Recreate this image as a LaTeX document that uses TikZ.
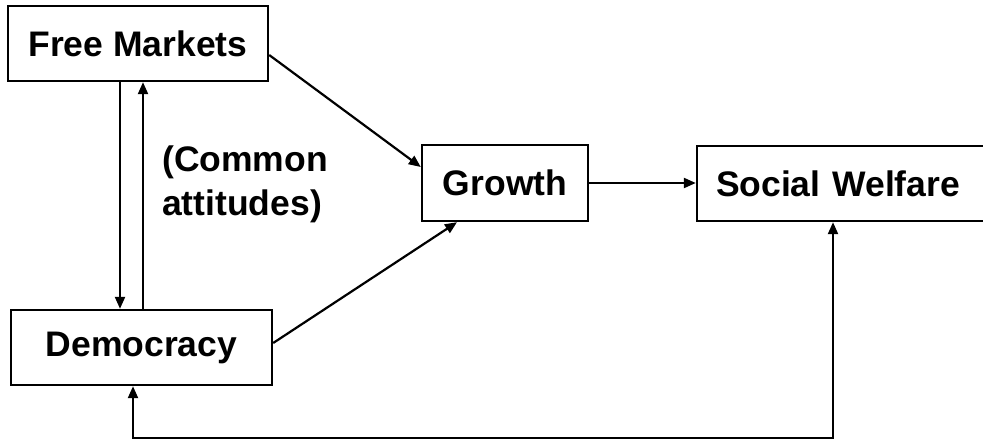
\documentclass[tikz,border=0pt]{standalone}
\usepackage{fontspec}
\setmainfont{Liberation Sans}
\usetikzlibrary{arrows.meta}
\begin{document}
\begin{tikzpicture}[x=1pt,y=-1pt,
  box/.style={draw, line width=2.4pt, inner sep=0pt, font=\fontsize{35.5}{40}\selectfont\bfseries},
  conn/.style={line width=2.2pt, -{Triangle[length=12pt,width=10pt]}},
  dconn/.style={line width=2.2pt, {Triangle[length=12pt,width=10pt]}-{Triangle[length=12pt,width=10pt]}}]
\useasboundingbox (0,0) rectangle (983,439);
\node[box, minimum width=260pt, minimum height=75pt] (FM) at (138,43.5) {Free Markets};
\node[box, minimum width=261pt, minimum height=75pt] (Dem) at (141.5,347.5) {Democracy};
\node[box, minimum width=166pt, minimum height=76pt] (Gr) at (505,183) {Growth};
\node[box, minimum width=290pt, minimum height=75pt, text width=278pt, align=left] (SW) at (842,183.5) {\hspace*{13pt}Social Welfare};
\node[font=\fontsize{35.5}{44}\selectfont\bfseries, align=left, anchor=north west, inner sep=0pt] (ca) at (162,146) {(Common\\attitudes)};
\draw[conn] ([xshift=-18pt]FM.south) -- ([xshift=-18pt]FM.south |- Dem.north);
\draw[conn] ([xshift=5pt]FM.south |- Dem.north) -- ([xshift=5pt]FM.south);
\draw[conn] ([yshift=-11.5pt]FM.east) -- ([yshift=16pt]Gr.west);
\draw[conn] ([yshift=4.5pt]Dem.east) -- ([xshift=-48pt]Gr.south);
\draw[conn] (Gr.east) -- (Gr.east -| SW.west);
\draw[dconn] ([xshift=-8.5pt]Dem.south) -- ++(0,51.5) -| ([xshift=-9pt]SW.south);
\end{tikzpicture}
\end{document}
